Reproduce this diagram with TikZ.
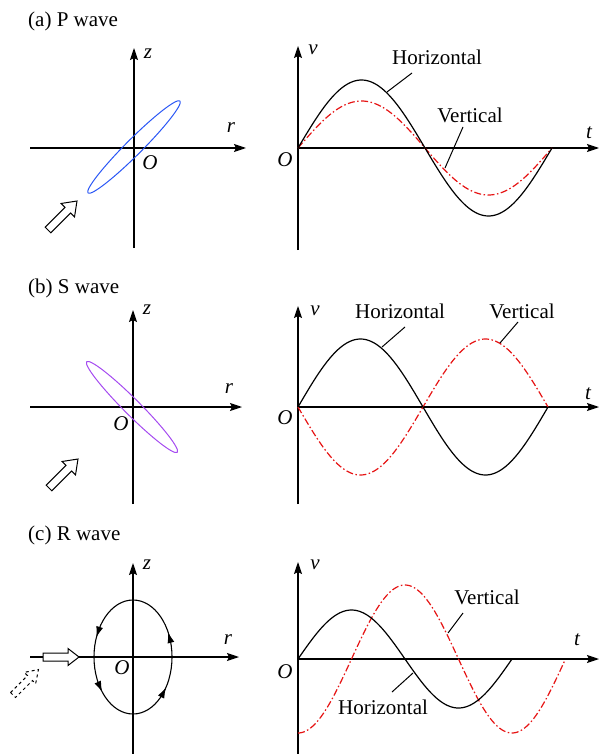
\documentclass[tikz,border=0pt]{standalone}
\usepackage{fontspec}
\setmainfont{Liberation Serif}
\usetikzlibrary{arrows.meta}
\definecolor{pblue}{RGB}{40,85,245}
\definecolor{spurple}{RGB}{165,75,240}
\definecolor{vred}{RGB}{230,20,20}
\begin{document}
\begin{tikzpicture}[x=1pt,y=-1pt,
  every node/.style={font=\fontsize{21}{25}\selectfont, inner sep=0pt},
  lbl/.style={font=\fontsize{21}{25}\selectfont\itshape},
  axis/.style={line width=1.2pt,-{Stealth[length=12pt,width=8pt,inset=2pt]}},
  hcurve/.style={line width=1.2pt,black},
  vcurve/.style={line width=1.2pt,vred,dash pattern=on 7pt off 2.5pt on 1.5pt off 2.5pt},
  leader/.style={line width=1pt},
  orbitarrow/.style={line width=1.1pt,-{Latex[length=11pt,width=7pt]}},
  pics/blockarrow/.style n args={4}{code={
    \draw[line width=1pt,fill=white,pic actions] (0,-#2) -- (#1-#4,-#2) -- (#1-#4,-#3) -- (#1,0) -- (#1-#4,#3) -- (#1-#4,#2) -- (0,#2) -- cycle;}}
]
\useasboundingbox (0,0) rectangle (600,754);

%% ---------------- (a) P wave ----------------
\node[anchor=west] (ta) at (28,21) {(a) P wave};
\coordinate (azb) at (134,248); \coordinate (azt) at (134,48);
\coordinate (arl) at (30,148);  \coordinate (arr) at (246,148);
\draw[axis] (azb) -- (azt);
\draw[axis] (arl) -- (arr);
\node[lbl] (az) at (148,54) {z};
\node[lbl] (ar) at (231,128) {r};
\node[lbl] (aO) at (150,163) {O};
\draw[pblue,line width=1pt,rotate around={45:(134,147)}] (134,147) ellipse [x radius=65, y radius=8];
\pic at (48,230) [rotate=45] {blockarrow={41}{4}{9.5}{13}};
\coordinate (avb) at (298,250); \coordinate (avt) at (298,46);
\coordinate (atl) at (298,148); \coordinate (atr) at (599,148);
\draw[axis] (avb) -- (avt);
\draw[axis] (atl) -- (atr);
\node[lbl] (av) at (313,50) {v};
\node[lbl] (at) at (589,133) {t};
\node[lbl] (aO2) at (285,160) {O};
\draw[vcurve] plot[domain=298:552,samples=120,smooth] (\x,{148-47*sin((\x-298)/254*360)});
\draw[hcurve] plot[domain=298:552,samples=120,smooth] (\x,{148-68*sin((\x-298)/254*360)});
\node (ahl) at (437,57) {Horizontal};
\node (avl) at (470,115) {Vertical};
\coordinate (ah1) at (412,73); \coordinate (ah2) at (387,92);
\coordinate (av1) at (463,127); \coordinate (av2) at (445,168);
\draw[leader] (ah1) -- (ah2);
\draw[leader] (av1) -- (av2);

%% ---------------- (b) S wave ----------------
\node[anchor=west] (tb) at (28,288) {(b) S wave};
\coordinate (bzb) at (133,504); \coordinate (bzt) at (133,310);
\coordinate (brl) at (30,407);  \coordinate (brr) at (242,407);
\draw[axis] (bzb) -- (bzt);
\draw[axis] (brl) -- (brr);
\node[lbl] (bz) at (147,310) {z};
\node[lbl] (br) at (229,389) {r};
\node[lbl] (bO) at (121,424) {O};
\draw[spurple,line width=1pt,rotate around={-45:(132,407)}] (132,407) ellipse [x radius=64, y radius=8];
\pic at (49,488) [rotate=45] {blockarrow={41}{4}{9.5}{13}};
\coordinate (bvb) at (298,504); \coordinate (bvt) at (298,306);
\coordinate (btl) at (298,407); \coordinate (btr) at (599,407);
\draw[axis] (bvb) -- (bvt);
\draw[axis] (btl) -- (btr);
\node[lbl] (bv) at (315,311) {v};
\node[lbl] (bt) at (588,394) {t};
\node[lbl] (bO2) at (285,418) {O};
\draw[vcurve] plot[domain=298:548,samples=120,smooth] (\x,{407+68*sin((\x-298)/250*360)});
\draw[hcurve] plot[domain=298:548,samples=120,smooth] (\x,{407-68*sin((\x-298)/250*360)});
\node (bhl) at (400,311) {Horizontal};
\node (bvl) at (522,311) {Vertical};
\coordinate (bh1) at (405,327); \coordinate (bh2) at (382,347);
\coordinate (bv1) at (518,322); \coordinate (bv2) at (500,343);
\draw[leader] (bh1) -- (bh2);
\draw[leader] (bv1) -- (bv2);

%% ---------------- (c) R wave ----------------
\node[anchor=west] (tc) at (28,535) {(c) R wave};
\coordinate (czb) at (133,754); \coordinate (czt) at (133,563);
\coordinate (crl) at (30,657);  \coordinate (crr) at (239,657);
\draw[axis] (czb) -- (czt);
\draw[axis] (crl) -- (crr);
\node[lbl] (cz) at (147,565) {z};
\node[lbl] (cr) at (228,640) {r};
\node[lbl] (cO) at (122,668) {O};
\draw[line width=1.1pt] (133,657) ellipse [x radius=39, y radius=57];
\foreach \t in {26,160,218,328}{
  \draw[orbitarrow] ({133+39*cos(\t-9)},{657-57*sin(\t-9)}) -- ({133+39*cos(\t)},{657-57*sin(\t)});
}
\pic at (43,657) {blockarrow={36}{4}{8.5}{11}};
\pic[dashed] at (13,695) [rotate=45] {blockarrow={36}{3.5}{8}{12}};
\coordinate (cvb) at (298,754); \coordinate (cvt) at (298,562);
\coordinate (ctl) at (298,659); \coordinate (ctr) at (599,659);
\draw[axis] (cvb) -- (cvt);
\draw[axis] (ctl) -- (ctr);
\node[lbl] (cv) at (315,565) {v};
\node[lbl] (ct) at (577,640) {t};
\node[lbl] (cO2) at (285,672) {O};
\draw[vcurve] plot[domain=298:565,samples=140,smooth] (\x,{659+74*cos((\x-298)/214*360)});
\draw[hcurve] plot[domain=298:512,samples=120,smooth] (\x,{659-49*sin((\x-298)/214*360)});
\node (cvl) at (487,597) {Vertical};
\node (chl) at (383,707) {Horizontal};
\coordinate (cv1) at (463,613); \coordinate (cv2) at (448,633);
\coordinate (ch1) at (392,692); \coordinate (ch2) at (413,673);
\draw[leader] (cv1) -- (cv2);
\draw[leader] (ch1) -- (ch2);
\end{tikzpicture}
\end{document}
